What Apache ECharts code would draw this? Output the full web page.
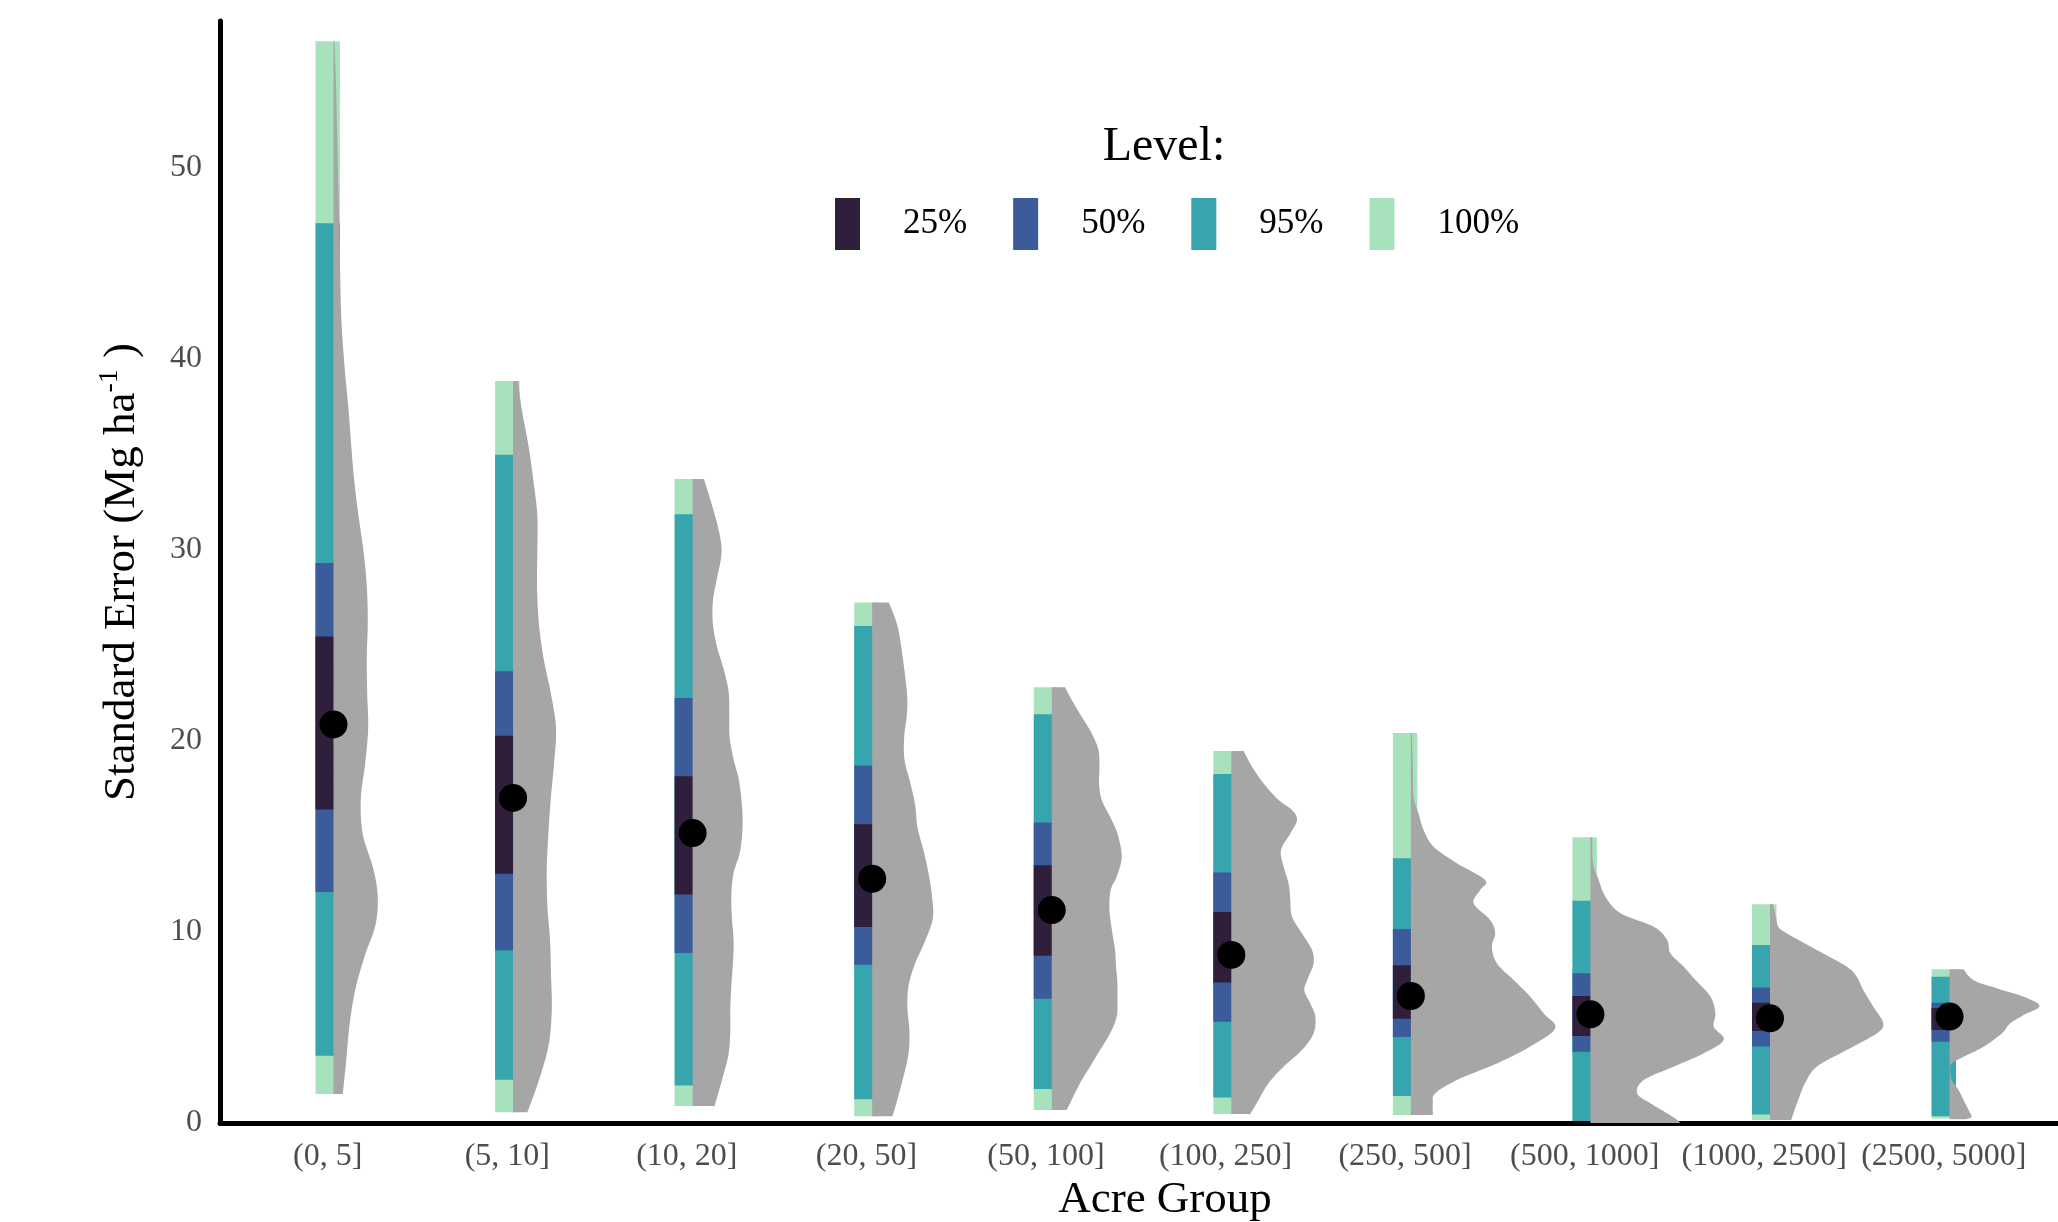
<!DOCTYPE html>
<html>
<head>
<meta charset="utf-8">
<script src="https://cdn.jsdelivr.net/npm/echarts@6/dist/echarts.min.js"></script>
<style>html,body{margin:0;padding:0;background:#fff}#c{width:2058px;height:1222px}</style>
</head>
<body>
<div id="c"></div>
<script>
// ---------------- data ----------------
const categories = ['(0, 5]', '(5, 10]', '(10, 20]', '(20, 50]', '(50, 100]', '(100, 250]', '(250, 500]', '(500, 1000]', '(1000, 2500]', '(2500, 5000]'];
const levels = ['25%', '50%', '95%', '100%'];
const yTicks = [0, 10, 20, 30, 40, 50];

const median = [20.87, 17.02, 15.18, 12.79, 11.15, 8.80, 6.65, 5.69, 5.48, 5.57];
// [lower, upper] per category
const interval25 = [[16.42,25.47],[13.05,20.28],[11.96,18.15],[10.26,15.64],[8.76,13.49],[7.35,11.05],[5.46,8.26],[4.55,6.65],[4.82,6.30],[4.87,6.02]];
const interval50 = [[12.09,29.32],[9.05,23.65],[8.90,22.25],[8.29,18.72],[6.51,15.74],[5.30,13.11],[4.50,10.16],[3.73,7.84],[4.00,7.10],[4.26,6.30]];
const interval95 = [[3.52,47.11],[2.27,34.99],[1.96,31.87],[1.25,26.02],[1.78,21.40],[1.33,18.27],[1.41,13.86],[0,11.64],[0.45,9.32],[0.35,7.66]];
const interval100 = [[1.52,56.64],[0.56,38.85],[0.89,33.72],[0.35,27.25],[0.68,22.81],[0.47,19.48],[0.42,20.42],[0,14.96],[0.16,11.45],[0.23,8.05]];

// density profiles: [value, relative density]
const violin0 = [[56.64,1],[54.04,2.7],[50.33,4.3],[46.63,6],[42.92,7.3],[41.07,9],[39.22,11.7],[37.37,15],[35.51,17.7],[33.66,20.7],[31.80,25],[29.95,30],[28.10,33.3],[26.24,34.3],[24.39,33.3],[22.53,33.7],[20.68,34.7],[18.83,31.7],[16.97,27.3],[15.12,29.3],[13.27,40],[11.78,44.3],[10.30,41.7],[8.82,31.7],[6.97,21.7],[5.11,16],[3.26,12.7],[1.52,9.3]];
const violin1 = [[38.85,5],[37.37,8.7],[35.51,15.3],[33.66,20.3],[31.80,24.3],[29.95,24.3],[28.10,24],[26.24,25.7],[24.39,30.3],[22.53,37.7],[20.68,43],[18.83,41],[16.97,37.7],[15.12,35.3],[13.27,33.7],[11.41,34.3],[9.56,37],[7.71,38],[5.86,38.7],[4.00,35.3],[2.15,25.3],[0.56,14.3]];
const violin2 = [[33.72,11.3],[32.06,21],[30.64,27.7],[29.70,28.7],[28.51,24.3],[27.32,20.3],[26.14,20.3],[24.95,24.3],[23.77,31],[22.58,36],[21.40,36.7],[20.21,37],[19.03,41],[17.84,46.7],[15.94,50],[14.28,47.7],[13.10,41],[11.92,38.7],[10.73,39.3],[9.54,41],[8.36,40.3],[7.17,38.7],[5.99,37.7],[4.80,37.7],[3.62,36],[2.43,30.3],[0.89,22]];
const violin3 = [[27.25,16.7],[26.14,24.7],[24.95,29],[22.58,34.7],[21.40,34.7],[20.21,32],[19.03,32.3],[17.84,38],[16.65,43],[15.47,45.3],[14.28,51.3],[13.10,56.3],[11.92,59.7],[10.73,60.7],[9.54,53],[8.36,43],[7.17,36.3],[5.99,35.3],[4.80,37.3],[3.62,36.3],[2.43,31.3],[1.25,25.3],[0.35,20.3]];
const violin4 = [[22.81,13.3],[22.15,20],[21.27,30],[20.40,40],[19.53,46.7],[18.66,47.7],[17.78,47.3],[16.91,50],[16.04,58.3],[15.16,65.7],[13.94,70],[12.90,65],[12.20,59],[11.15,57.7],[9.93,60.7],[9.06,63.3],[8.19,64.3],[7.31,65.7],[6.44,65.7],[5.57,65],[4.69,58.3],[3.82,48.3],[2.95,38.3],[2.09,28.3],[0.68,15]];
const violin5 = [[19.48,12.3],[18.66,20.7],[17.78,32.3],[16.91,47.3],[16.39,60.7],[15.86,65.7],[15.16,59],[14.29,49.7],[13.42,52.3],[12.55,57.3],[11.68,59],[10.80,60.7],[9.93,70.7],[9.06,80.7],[8.36,82.3],[7.66,77.3],[6.96,73],[6.26,79],[5.57,84],[4.69,82.3],[3.82,70.7],[2.95,52.3],[2.09,37.3],[1.21,27.3],[0.47,19]];
const violin6 = [[20.42,1],[18.5,2],[17.09,2.7],[16.21,7.7],[15.34,12.7],[14.47,22.7],[13.60,46],[12.72,74.3],[12.20,69.3],[11.50,62.7],[10.63,79.3],[9.93,84.3],[9.23,81],[8.36,86],[7.49,102.7],[6.62,119.3],[5.74,132.7],[4.96,144.3],[4.00,119.3],[3.12,86],[2.25,46],[1.55,24.3],[1.03,22],[0.42,22]];
const violin7 = [[14.96,1.7],[13.60,2.7],[12.72,8.3],[11.85,15],[10.98,30],[10.28,63.3],[9.58,76.7],[8.88,80],[8.18,93.3],[7.49,105],[6.62,120],[5.74,125],[5.04,123.3],[4.35,133.3],[3.65,113.3],[2.95,83.3],[2.25,53.3],[1.55,46.7],[1.03,60],[0.51,76.7],[0.16,86.7],[0,90]];
const violin8 = [[11.45,3],[10.80,6],[10.28,8.3],[9.93,16.7],[9.06,46.7],[8.19,76.7],[7.66,86.7],[6.96,93.3],[6.09,103.3],[5.22,113.3],[4.69,106.7],[3.82,76.7],[2.95,46.7],[2.08,35],[1.21,28.3],[0.24,21.7],[0.16,21.7]];
const violin9 = [[8.05,14],[7.48,24],[7.05,47.3],[6.61,74],[6.13,90],[5.65,74],[5.22,60.7],[4.69,52.3],[3.99,34],[3.47,14],[3.12,2.3],[2.77,0.7],[2.25,2.3],[1.73,9],[1.21,14],[0.68,19],[0.33,22],[0.2,17]];
const violins = [violin0, violin1, violin2, violin3, violin4, violin5, violin6, violin7, violin8, violin9];

// ---------------- styling ----------------
const FONT = '"Liberation Serif", "Times New Roman", serif';
const COLORS = {'25%': '#2F1F3B', '50%': '#3B5B9B', '95%': '#36A5AD', '100%': '#A8E2BD'};
const BAR_HALF = 0.068;      // half-width of interval bar (category units)
const NUDGE = 0.032;         // slab / point offset
const DENS_SCALE = 1 / 179.56;

function intervalSeries(name, ranges, z) {
  return {
    type: 'custom', name: name, z: z,
    itemStyle: {color: COLORS[name]},
    data: ranges.map((r, i) => [i, r[0], r[1]]),
    encode: {x: 0, y: [1, 2]},
    renderItem: (params, api) => {
      const i = api.value(0), lo = api.value(1), hi = api.value(2);
      const p1 = api.coord([i - BAR_HALF, hi]);
      const p2 = api.coord([i + BAR_HALF, lo]);
      return {type: 'rect', shape: {x: p1[0], y: p1[1], width: p2[0] - p1[0], height: p2[1] - p1[1]},
              style: {fill: COLORS[name]}};
    }
  };
}

// Catmull-Rom through the measured edge points (drawing only)
function smoothEdge(pts, minX) {
  const out = [];
  const n = pts.length;
  for (let k = 0; k < n - 1; k++) {
    const p0 = pts[Math.max(k - 1, 0)], p1 = pts[k], p2 = pts[k + 1], p3 = pts[Math.min(k + 2, n - 1)];
    for (let s = 0; s < 8; s++) {
      const t = s / 8, t2 = t * t, t3 = t2 * t;
      const f = (a, b, c, d) => 0.5 * (2 * b + (-a + c) * t + (2 * a - 5 * b + 4 * c - d) * t2 + (-a + 3 * b - 3 * c + d) * t3);
      out.push([Math.max(minX, f(p0[0], p1[0], p2[0], p3[0])), f(p0[1], p1[1], p2[1], p3[1])]);
    }
  }
  out.push(pts[n - 1]);
  return out;
}

const chart = echarts.init(document.getElementById('c'), null, {renderer: 'canvas'});
chart.setOption({
  animation: false,
  backgroundColor: '#fff',
  grid: {left: 220, right: 0, top: 21, bottom: 99, containLabel: false, outerBoundsMode: 'none'},
  legend: {
    data: levels, left: 830, top: 193, orient: 'horizontal',
    icon: 'rect', itemWidth: 25, itemHeight: 52, itemGap: 46, selectedMode: false,
    textStyle: {fontFamily: FONT, fontSize: 35, color: '#000', padding: [0, 0, 0, 38]}
  },
  graphic: [{
    type: 'text', x: 1164, y: 147,
    style: {text: 'Level:', font: '48px ' + FONT, fill: '#000', align: 'center', verticalAlign: 'middle'}
  }],
  xAxis: {
    type: 'value', min: -0.6, max: 9.636, z: 5,
    axisLine: {show: true, onZero: false, lineStyle: {color: '#000', width: 5}},
    axisTick: {show: false},
    splitLine: {show: false},
    axisLabel: {
      customValues: categories.map((c, i) => i),
      formatter: v => categories[Math.round(v)] || '',
      fontFamily: FONT, fontSize: 32, color: '#4D4D4D', margin: 18
    },
    name: 'Acre Group', nameLocation: 'middle', nameGap: 52,
    nameTextStyle: {fontFamily: FONT, fontSize: 45, color: '#000', padding: [0, 0, 0, 52]}
  },
  yAxis: {
    type: 'value', min: 0, max: 57.7, interval: 10, z: 5,
    axisLine: {show: true, onZero: false, lineStyle: {color: '#000', width: 5}},
    axisTick: {show: false},
    splitLine: {show: false},
    axisLabel: {
      showMaxLabel: false,
      formatter: v => (yTicks.indexOf(v) >= 0 ? String(v) : ''),
      fontFamily: FONT, fontSize: 32, color: '#4D4D4D', margin: 18
    },
    name: '{a|Standard Error (Mg ha}{s|-1}{a| )}', nameLocation: 'middle', nameGap: 72, nameRotate: 90,
    nameTextStyle: {
      rich: {
        a: {fontFamily: FONT, fontSize: 45, color: '#000', lineHeight: 52},
        s: {fontFamily: FONT, fontSize: 28, color: '#000', lineHeight: 26, verticalAlign: 'top'}
      }
    }
  },
  series: [
    intervalSeries('100%', interval100, 2),
    intervalSeries('95%', interval95, 3),
    intervalSeries('50%', interval50, 4),
    intervalSeries('25%', interval25, 5),
    {
      type: 'custom', name: 'slab', z: 6,
      data: categories.map((c, i) => [i]),
      encode: {x: 0},
      renderItem: (params, api) => {
        const i = params.dataIndex;
        const prof = violins[i];
        const base = i + NUDGE;
        const top = api.coord([base, prof[0][0]]);
        const bottom = api.coord([base, prof[prof.length - 1][0]]);
        const edge = prof.map(p => api.coord([base + p[1] * DENS_SCALE, p[0]]));
        const pts = [top].concat(smoothEdge(edge, top[0])).concat([bottom]);
        return {type: 'polygon', shape: {points: pts}, style: {fill: '#A6A6A6'}};
      }
    },
    {
      type: 'scatter', name: 'median', z: 7,
      symbol: 'circle', symbolSize: 28,
      itemStyle: {color: '#000', opacity: 1},
      data: median.map((m, i) => [i + NUDGE, m])
    }
  ]
});
</script>
</body>
</html>
